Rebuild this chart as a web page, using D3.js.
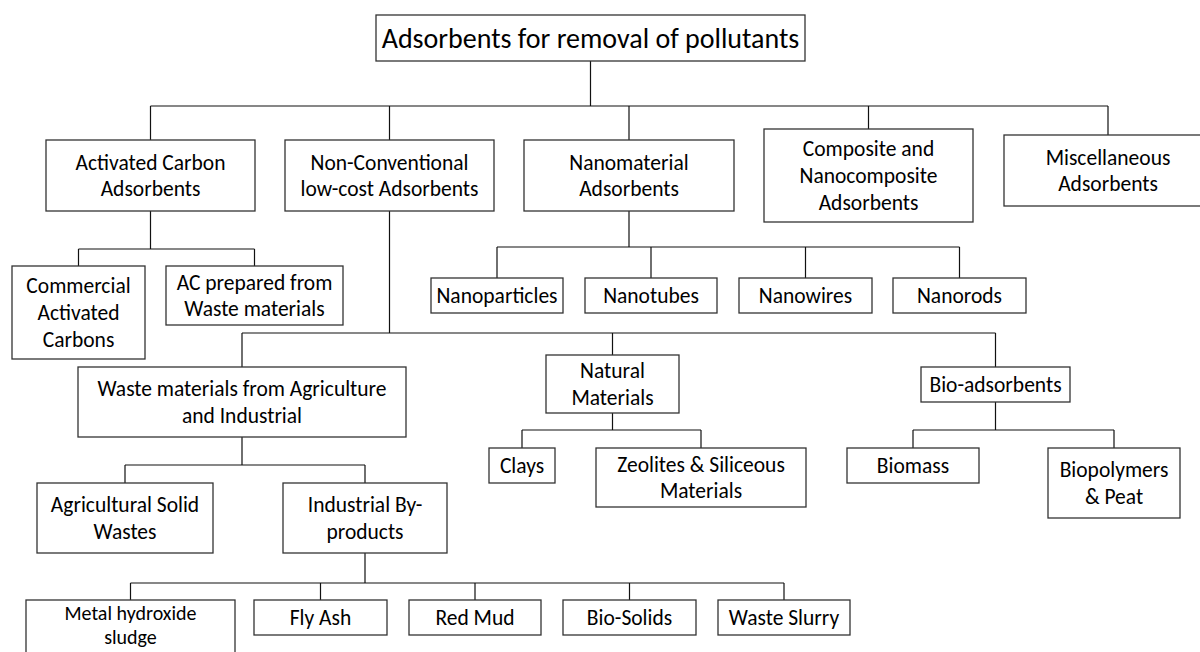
<!DOCTYPE html>
<html>
<head>
<meta charset="utf-8">
<script src="https://cdn.jsdelivr.net/npm/d3@7"></script>
<style>
  body { margin: 0; background: #fff; }
  svg { display: block; }
  text { font-family: Carlito, Calibri, Lato, sans-serif; fill: #000; }
</style>
</head>
<body>
<div id="chart"></div>
<script>
// tree content: id, label (\n = line break), parent
var ids = ["root", "ac", "nc", "nano", "comp", "misc",
  "com", "acw", "np", "nt", "nw", "nr",
  "waste", "nat", "bio", "agri", "ind",
  "mhs", "fly", "red", "bios", "slurry",
  "clay", "zeo", "biom", "biop"];

var labels = ["Adsorbents for removal of pollutants",
  "Activated Carbon\nAdsorbents", "Non-Conventional\nlow-cost Adsorbents", "Nanomaterial\nAdsorbents",
  "Composite and\nNanocomposite\nAdsorbents", "Miscellaneous\nAdsorbents",
  "Commercial\nActivated\nCarbons", "AC prepared from\nWaste materials",
  "Nanoparticles", "Nanotubes", "Nanowires", "Nanorods",
  "Waste materials from Agriculture\nand Industrial", "Natural\nMaterials", "Bio-adsorbents",
  "Agricultural Solid\nWastes", "Industrial By-\nproducts",
  "Metal hydroxide\nsludge", "Fly Ash", "Red Mud", "Bio-Solids", "Waste Slurry",
  "Clays", "Zeolites & Siliceous\nMaterials", "Biomass", "Biopolymers\n& Peat"];

var parents = ["", "root", "root", "root", "root", "root",
  "ac", "ac", "nano", "nano", "nano", "nano",
  "nc", "nc", "nc", "waste", "waste",
  "ind", "ind", "ind", "ind", "ind",
  "nat", "nat", "bio", "bio"];

// layout of the drawing (box corners x0,y0,x1,y1 and y of each connector bus)
var boxes = {
  root: [376, 15, 805, 61],
  ac: [46, 140, 255, 211], nc: [285, 140, 494, 211], nano: [524, 140, 734, 211],
  comp: [764, 129, 973, 222], misc: [1004, 135, 1212, 206],
  com: [12, 266, 145, 359], acw: [166, 266, 343, 325],
  np: [431, 278, 563, 313], nt: [585, 278, 717, 313], nw: [739, 278, 872, 313], nr: [893, 278, 1026, 313],
  waste: [78, 367, 406, 437], nat: [546, 355, 679, 413], bio: [921, 367, 1070, 402],
  agri: [37, 483, 213, 553], ind: [283, 483, 447, 553],
  mhs: [26, 600, 235, 662], fly: [254, 600, 387, 635], red: [409, 600, 541, 635],
  bios: [563, 600, 696, 635], slurry: [718, 600, 850, 635],
  clay: [489, 448, 555, 483], zeo: [596, 448, 806, 507],
  biom: [847, 448, 979, 483], biop: [1048, 448, 1180, 518]
};
var busY = { root: 106, ac: 249, nc: 333, nano: 247, waste: 465, ind: 583, nat: 430, bio: 430 };
// the bottom-left box runs off the page; keep its text inside
var textFit = { mhs: { mid: 625, lh: 24, size: 20 } };

var width = 1200, height = 652;
var lineH = 26.6;

var table = ids.map(function(id, i) { return { id: id, label: labels[i], parent: parents[i] }; });
var root = d3.stratify().id(function(d) { return d.id; }).parentId(function(d) { return d.parent || null; })(table);

var svg = d3.select("#chart").append("svg")
  .attr("width", width)
  .attr("height", height);

function cx(n) { var b = boxes[n.id]; return (b[0] + b[2]) / 2; }

// connectors: parent drop, horizontal bus, child drops
var links = svg.append("g")
  .attr("fill", "none")
  .attr("stroke", "#111")
  .attr("stroke-width", 1.2);

root.each(function(n) {
  if (!n.children) return;
  var b = boxes[n.id], y = busY[n.id];
  var xs = n.children.map(cx).concat([cx(n)]);
  var p = d3.path();
  p.moveTo(cx(n), b[3]); p.lineTo(cx(n), y);
  p.moveTo(d3.min(xs), y); p.lineTo(d3.max(xs), y);
  n.children.forEach(function(c) {
    p.moveTo(cx(c), y); p.lineTo(cx(c), boxes[c.id][1]);
  });
  links.append("path").attr("d", p.toString());
});

// boxes and labels
var node = svg.selectAll("g.node")
  .data(root.descendants())
  .enter()
  .append("g")
  .classed("node", true);

node.append("rect")
  .attr("x", function(d) { return boxes[d.id][0]; })
  .attr("y", function(d) { return boxes[d.id][1]; })
  .attr("width", function(d) { return boxes[d.id][2] - boxes[d.id][0]; })
  .attr("height", function(d) { return boxes[d.id][3] - boxes[d.id][1]; })
  .attr("fill", "#fff")
  .attr("stroke", "#333")
  .attr("stroke-width", 1.3);

node.append("text")
  .attr("text-anchor", "middle")
  .style("font-size", function(d) {
    if (textFit[d.id]) return textFit[d.id].size + "px";
    return d.depth === 0 ? "28px" : "21.5px";
  })
  .each(function(d) {
    var b = boxes[d.id];
    var lines = d.data.label.split("\n");
    var fit = textFit[d.id];
    var mid = fit ? fit.mid : (b[1] + b[3]) / 2;
    var lh = fit ? fit.lh : lineH;
    var t = d3.select(this);
    lines.forEach(function(s, i) {
      t.append("tspan")
        .attr("x", (b[0] + b[2]) / 2)
        .attr("y", mid + (i - (lines.length - 1) / 2) * lh)
        .attr("dy", "0.35em")
        .text(s);
    });
  });
</script>
</body>
</html>
